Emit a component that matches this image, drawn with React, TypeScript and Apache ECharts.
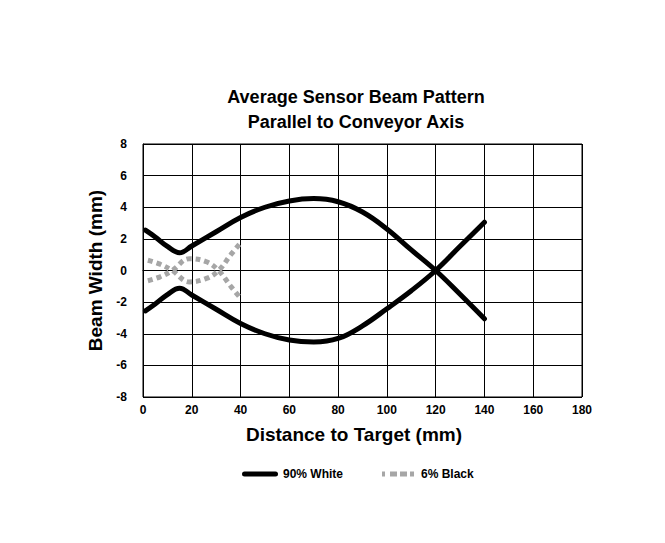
import React, { useEffect, useRef } from "react";
import * as echarts from "echarts";

const titleLines = ["Average Sensor Beam Pattern", "Parallel to Conveyor Axis"];
const xTicks = [0, 20, 40, 60, 80, 100, 120, 140, 160, 180];
const yTicks = [-8, -6, -4, -2, 0, 2, 4, 6, 8];

const whiteX = [1, 5, 10, 15, 20, 30, 40, 50, 60, 70, 80, 90, 100, 110, 120, 130, 140];
const whiteUpper = [2.55, 2.12, 1.52, 1.12, 1.55, 2.45, 3.35, 4.0, 4.4, 4.55, 4.35, 3.7, 2.63, 1.3, 0, -1.5, -3.05];
const whiteLower = [-2.55, -2.12, -1.52, -1.12, -1.55, -2.45, -3.35, -4.0, -4.4, -4.52, -4.3, -3.5, -2.42, -1.28, 0, 1.53, 3.05];

const blackX = [2, 7, 12, 19, 26, 31, 36, 40];
const blackA = [0.65, 0.4, 0, -0.72, -0.5, 0, 1.0, 1.75];
const blackB = [-0.65, -0.4, 0, 0.75, 0.55, 0, -1.0, -1.75];

const FONT = "'Liberation Sans', Arial, sans-serif";

function pairs(xs: number[], ys: number[]) {
  return xs.map((x, i) => [x, ys[i]]);
}

const WHITE_ICON = "path://M2.5,0H33.5A2.5,2.5,0,0,1,33.5,5H2.5A2.5,2.5,0,0,1,2.5,0Z";
const BLACK_ICON = "path://M0,0H3V5H0Z M8,0H15V5H8Z M18,0H25V5H18Z M28,0H32V5H28Z";

export default function App() {
  const ref = useRef<HTMLDivElement>(null);
  useEffect(() => {
    if (!ref.current) return;
    const chart = echarts.init(ref.current, undefined, { renderer: "svg" });
    const whiteStyle = { color: "#000000", width: 5, cap: "round" as const, join: "round" as const };
    const blackStyle = { color: "#a6a6a6", width: 5, type: [5, 4], cap: "butt" as const };
    chart.setOption({
      animation: false,
      title: {
        text: titleLines.join("\n"),
        left: 351,
        textAlign: "center",
        top: 79,
        textStyle: { fontFamily: FONT, fontSize: 18, fontWeight: "bold", color: "#000", lineHeight: 25 },
      },
      legend: {
        top: 463,
        left: 237,
        itemWidth: 36,
        itemHeight: 5,
        itemGap: 39,
        textStyle: { fontFamily: FONT, fontSize: 12, fontWeight: "bold", color: "#000" },
        data: [
          { name: "90% White", icon: WHITE_ICON, itemStyle: { color: "#000" } },
          { name: "6% Black", icon: BLACK_ICON, itemStyle: { color: "#a6a6a6" } },
        ],
      },
      grid: {
        left: 143,
        right: 83,
        top: 144,
        bottom: 146,
        show: true,
        borderColor: "#000",
        borderWidth: 1,
      },
      xAxis: {
        type: "value",
        min: xTicks[0],
        max: xTicks[xTicks.length - 1],
        interval: 20,
        name: "Distance to Target (mm)",
        nameLocation: "middle",
        nameGap: 28,
        nameTextStyle: { fontFamily: FONT, fontSize: 19, fontWeight: "bold", color: "#000", padding: [0, 17, 0, 0] },
        axisLine: { show: true, lineStyle: { color: "#000", width: 1 } },
        axisTick: { show: false },
        axisLabel: { fontFamily: FONT, fontSize: 12, fontWeight: "bold", color: "#000", margin: 7 },
        splitLine: { show: true, lineStyle: { color: "#000", width: 1 } },
      },
      yAxis: {
        type: "value",
        min: yTicks[0],
        max: yTicks[yTicks.length - 1],
        interval: 2,
        name: "Beam Width (mm)",
        nameLocation: "middle",
        nameGap: 30,
        nameTextStyle: { fontFamily: FONT, fontSize: 19, fontWeight: "bold", color: "#000" },
        axisLine: { show: true, lineStyle: { color: "#000", width: 1 } },
        axisTick: { show: false },
        axisLabel: { fontFamily: FONT, fontSize: 12, fontWeight: "bold", color: "#000", margin: 16 },
        splitLine: { show: true, lineStyle: { color: "#000", width: 1 } },
      },
      series: [
        {
          name: "90% White",
          type: "line",
          data: pairs(whiteX, whiteUpper),
          smooth: 0.4,
          symbol: "none",
          lineStyle: whiteStyle,
          itemStyle: { color: "#000" },
          z: 3,
        },
        {
          name: "90% White",
          type: "line",
          data: pairs(whiteX, whiteLower),
          smooth: 0.4,
          symbol: "none",
          lineStyle: whiteStyle,
          itemStyle: { color: "#000" },
          z: 3,
        },
        {
          name: "6% Black",
          type: "line",
          data: pairs(blackX, blackA),
          smooth: 0.4,
          symbol: "none",
          lineStyle: blackStyle,
          itemStyle: { color: "#a6a6a6" },
          z: 2,
        },
        {
          name: "6% Black",
          type: "line",
          data: pairs(blackX, blackB),
          smooth: 0.4,
          symbol: "none",
          lineStyle: blackStyle,
          itemStyle: { color: "#a6a6a6" },
          z: 2,
        },
      ],
    });
    return () => chart.dispose();
  }, []);
  return (
    <div style={{ position: "relative", width: 665, height: 543, margin: -8, overflow: "hidden", background: "#fff" }}>
      <div
        style={{
          position: "absolute",
          left: 4,
          top: 3,
          width: 700,
          height: 600,
          borderTop: "2px solid #e4e4e4",
          borderLeft: "2px solid #e4e4e4",
          boxSizing: "border-box",
        }}
      />
      <div ref={ref} style={{ position: "absolute", left: 0, top: 0, width: 665, height: 543 }} />
    </div>
  );
}
